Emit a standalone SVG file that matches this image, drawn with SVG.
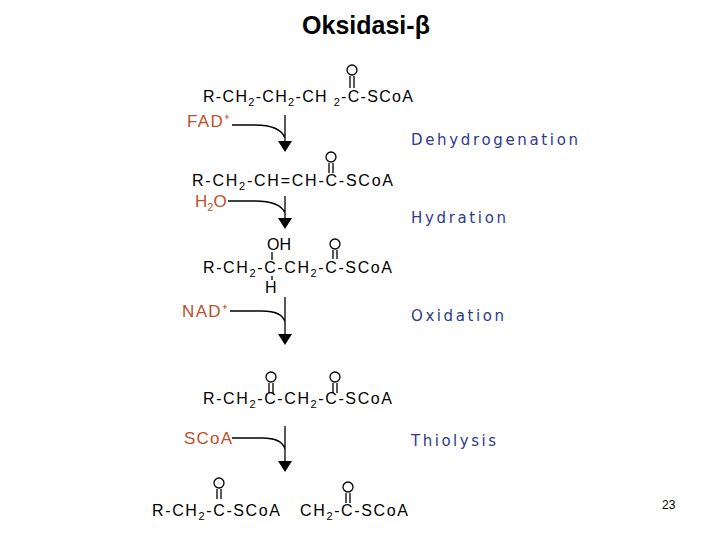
<svg xmlns="http://www.w3.org/2000/svg" width="720" height="540" viewBox="0 0 720 540">
<style>
.c{font-family:"Liberation Sans",Arial,sans-serif;font-size:16px;fill:#000}
.s{font-size:11px}
.r{font-family:"Liberation Sans",Arial,sans-serif;font-size:17px;fill:#c0502a}
.b{font-family:"DejaVu Sans",Verdana,sans-serif;font-size:15px;fill:#2c3a8c}
.l{stroke:#000;stroke-width:1.3;fill:none}
</style>
<rect width="720" height="540" fill="#fff"/>
<text x="366" y="34" text-anchor="middle" font-family="Liberation Sans,Arial,sans-serif" font-size="25" font-weight="bold">Oksidasi-β</text>
<g id="m1"><text class="c" x="203" y="102" textLength="210">R-CH<tspan class="s" dy="4">2</tspan><tspan dy="-4">-CH</tspan><tspan class="s" dy="4">2</tspan><tspan dy="-4">-CH </tspan><tspan class="s" dy="4">2</tspan><tspan dy="-4">-C-SCoA</tspan></text>
<circle class="l" cx="352" cy="70" r="5"/><path class="l" d="M350 76V88M354 76V88"/></g>
<g id="m2"><text class="c" x="192" y="186" textLength="201">R-CH<tspan class="s" dy="4">2</tspan><tspan dy="-4">-CH=CH-C-SCoA</tspan></text>
<circle class="l" cx="331" cy="157" r="5"/><path class="l" d="M329 163V173M333 163V173"/></g>
<g id="m3"><text class="c" x="267" y="250">OH</text><circle class="l" cx="335" cy="244" r="5"/><path class="l" d="M333 250V259M337 250V259M272 252V260M272 276V280"/>
<text class="c" x="203" y="273" textLength="189">R-CH<tspan class="s" dy="4">2</tspan><tspan dy="-4">-C-CH</tspan><tspan class="s" dy="4">2</tspan><tspan dy="-4">-C-SCoA</tspan></text>
<text class="c" x="265" y="293">H</text></g>
<g id="m4"><circle class="l" cx="271" cy="377" r="5"/><path class="l" d="M269 383V393M273 383V393"/><circle class="l" cx="335" cy="377" r="5"/><path class="l" d="M333 383V393M337 383V393"/>
<text class="c" x="203" y="404" textLength="189">R-CH<tspan class="s" dy="4">2</tspan><tspan dy="-4">-C-CH</tspan><tspan class="s" dy="4">2</tspan><tspan dy="-4">-C-SCoA</tspan></text></g>
<g id="m5"><circle class="l" cx="219" cy="483" r="5"/><path class="l" d="M217 489V499M221 489V499"/><circle class="l" cx="348" cy="487" r="5"/><path class="l" d="M346 493V503M350 493V503"/>
<text class="c" x="152" y="516" textLength="128">R-CH<tspan class="s" dy="4">2</tspan><tspan dy="-4">-C-SCoA</tspan></text>
<text class="c" x="300" y="516" textLength="108">CH<tspan class="s" dy="4">2</tspan><tspan dy="-4">-C-SCoA</tspan></text></g>
<g id="reagents"><text class="r" x="187" y="127" textLength="43">FAD⁺</text><text class="r" x="195" y="207">H<tspan class="s" dy="4">2</tspan><tspan dy="-4">O</tspan></text><text class="r" x="182" y="317" textLength="46">NAD⁺</text><text class="r" x="184" y="444" textLength="48">SCoA</text></g>
<g id="labels"><text class="b" x="411" y="145" textLength="167">Dehydrogenation</text><text class="b" x="411" y="223" textLength="95">Hydration</text><text class="b" x="411" y="321" textLength="93">Oxidation</text><text class="b" x="411" y="446" textLength="85">Thiolysis</text></g>
<g id="connectors">
<path class="l" d="M285 115V142M232 125H255Q280 125 285 138"/><path d="M278 141H292L285 152Z"/>
<path class="l" d="M285 196V220M228 201H255Q280 201 285 213"/><path d="M278 218H292L285 229Z"/>
<path class="l" d="M285 297V336M230 311H262Q282 311 285 322"/><path d="M278 334H292L285 345Z"/>
<path class="l" d="M285 426V462M232 438H262Q282 438 285 449"/><path d="M278 461H292L285 472Z"/>
</g>
<text x="662" y="509" font-family="Liberation Sans,Arial,sans-serif" font-size="12">23</text>
</svg>
